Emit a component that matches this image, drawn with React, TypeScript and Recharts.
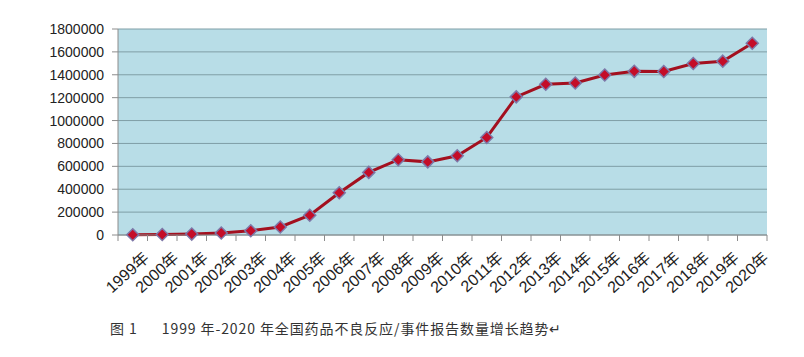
import { LineChart, Line, XAxis, YAxis, CartesianGrid } from 'recharts';

const years = [
  '1999年', '2000年', '2001年', '2002年', '2003年', '2004年', '2005年', '2006年',
  '2007年', '2008年', '2009年', '2010年', '2011年', '2012年', '2013年', '2014年',
  '2015年', '2016年', '2017年', '2018年', '2019年', '2020年',
];

const reports = [
  2000, 4000, 8000, 17000, 37000, 70000, 173000, 369000,
  547000, 658000, 639000, 692000, 852000, 1207000, 1317000, 1328000,
  1398000, 1430000, 1429000, 1499000, 1519000, 1676000,
];

const yTicks = [0, 200000, 400000, 600000, 800000, 1000000, 1200000, 1400000, 1600000, 1800000];

const caption = '图 1\u00a0\u00a0\u00a0\u00a0\u00a0 1999 年-2020 年全国药品不良反应/事件报告数量增长趋势↵';

const data = years.map((year, i) => ({ year, value: reports[i] }));

const FONT = '"Liberation Sans", "Noto Sans CJK SC", sans-serif';
const PLOT_LEFT = 118;
const PLOT_RIGHT = 767;
const BAND = (PLOT_RIGHT - PLOT_LEFT) / years.length;

// diamond markers like the Excel original
function Diamond(props: any) {
  const { cx, cy, index } = props;
  if (cx == null || cy == null) return null;
  const r = 6;
  return (
    <polygon
      key={`d-${index}`}
      points={`${cx},${cy - r} ${cx + r},${cy} ${cx},${cy + r} ${cx - r},${cy}`}
      fill="#c40d28"
      stroke="#7d78a8"
      strokeWidth={1.5}
    />
  );
}

function YearTick(props: any) {
  const { x, y, payload, index } = props;
  const last = index === years.length - 1;
  const ax = x + 10;
  const ay = y + 8;
  return (
    <g>
      <line x1={x - BAND / 2} y1={y - 8} x2={x - BAND / 2} y2={y - 2} stroke="#8c8c8c" />
      {last && <line x1={x + BAND / 2} y1={y - 8} x2={x + BAND / 2} y2={y - 2} stroke="#8c8c8c" />}
      <text
        x={ax}
        y={ay}
        transform={`rotate(-42, ${ax}, ${ay})`}
        textAnchor="end"
        fontSize={16}
        fontFamily={FONT}
        fill="#222"
        dy="0.7em"
      >
        {payload.value}
      </text>
    </g>
  );
}

export default function App() {
  return (
    <div style={{ position: 'absolute', left: 0, top: 0, width: 804, height: 357, background: '#fff' }}>
      <LineChart width={804} height={300} data={data} margin={{ top: 29, right: 804 - PLOT_RIGHT, bottom: 0, left: 0 }}>
        <CartesianGrid vertical={false} stroke="#7f9ea6" fill="#b8dde7" fillOpacity={1} />
        <XAxis
          dataKey="year"
          height={65}
          stroke="#8c8c8c"
          tickLine={false}
          tick={<YearTick />}
          interval={0}
          padding={{ left: BAND / 2, right: BAND / 2 }}
        />
        <YAxis
          width={PLOT_LEFT}
          domain={[0, 1800000]}
          ticks={yTicks}
          interval={0}
          stroke="#8c8c8c"
          tickSize={6}
          tickMargin={8}
          tick={{ fontSize: 14, fontFamily: FONT, fill: '#222' }}
        />
        <Line
          type="linear"
          dataKey="value"
          stroke="#a3101f"
          strokeWidth={3}
          dot={<Diamond />}
          isAnimationActive={false}
        />
      </LineChart>
      <div
        style={{
          position: 'absolute',
          left: 110,
          top: 318,
          fontFamily: '"Noto Sans CJK SC", sans-serif',
          fontSize: 14,
          letterSpacing: 0.9,
          color: '#333',
          whiteSpace: 'pre',
        }}
      >
        {caption}
      </div>
    </div>
  );
}
